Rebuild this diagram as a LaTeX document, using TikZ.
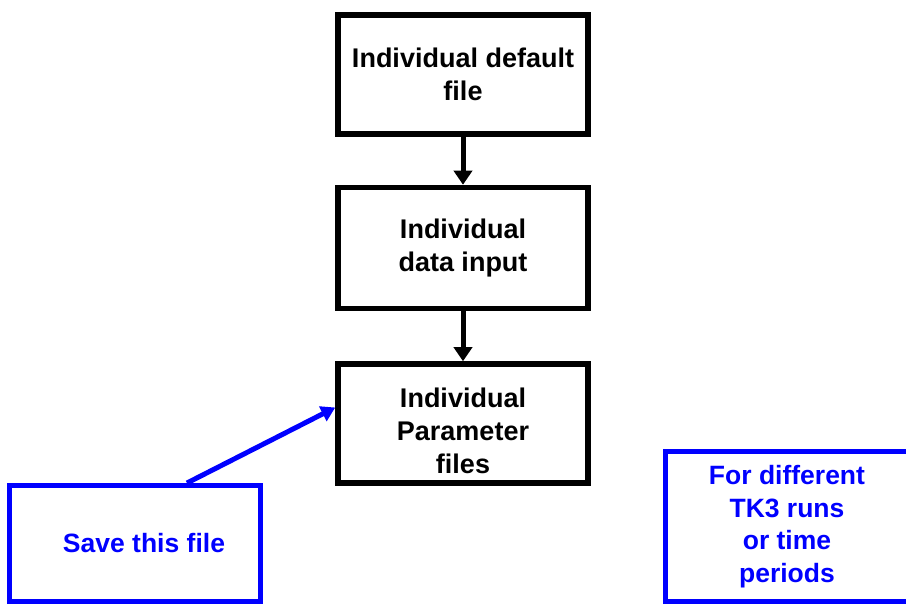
\documentclass[tikz,border=0pt]{standalone}
\usepackage{fontspec}
\setmainfont{Liberation Sans}
\usetikzlibrary{positioning,arrows.meta,calc}

\tikzset{
	stepbox/.style={draw=black,line width=5.5pt,minimum width=250pt,minimum height=119pt,
		align=center,font=\fontsize{27}{33}\selectfont\bfseries},
	notebox/.style={draw=blue,text=blue,line width=5pt,align=center,
		font=\fontsize{26.5}{32.5}\selectfont\bfseries},
	flow/.style={line width=5pt,-{Triangle[width=18pt,length=14pt]}},
}

\begin{document}
\begin{tikzpicture}[x=1pt,y=1pt]
	\useasboundingbox (0,0) rectangle (906,-604);
	\clip (0,0) rectangle (906,-604);
	\node[stepbox] (def) at (463,-74.5) {Individual default\\file};
	\node[stepbox,minimum height=121pt,below=48pt of def] (inp) {Individual\\data input};
	\node[stepbox,below=50pt of inp] (par) {\rule{0pt}{35pt}Individual\\Parameter\\files};
	\node[notebox,minimum width=251pt,minimum height=116pt] (save) at (135,-543.5) {\hspace*{18pt}Save this file};
	\node[notebox,minimum width=243pt,minimum height=150pt] (diff) at (787,-526.5) {For different\\TK3 runs\\or time\\periods};
	\draw[flow] (def) -- (inp);
	\draw[flow] (inp) -- (par);
	\draw[flow,blue,-{Triangle[width=16pt,length=14pt]}] ($(save.north)+(52,0)$) -- ($(par.west)+(0,16)$);
\end{tikzpicture}
\end{document}
